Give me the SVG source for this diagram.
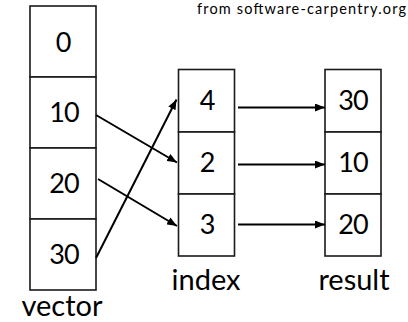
<svg xmlns="http://www.w3.org/2000/svg" width="408" height="322" viewBox="0 0 408 322">
  <style>
    .cell { fill: #fff; stroke: #1a1a1a; stroke-width: 1.6; }
    .num { font-family: Lato, "Open Sans", sans-serif; font-size: 27px; fill: #000; text-anchor: middle; letter-spacing: -1px; }
    .label { font-family: Lato, "Open Sans", sans-serif; font-size: 29px; fill: #000; text-anchor: middle; }
    .credit { font-family: Lato, "Open Sans", sans-serif; font-size: 14.5px; fill: #000; text-anchor: end; }
    .arrow { stroke: #000; stroke-width: 2; fill: none; marker-end: url(#head); }
  </style>
  <defs>
    <marker id="head" markerUnits="userSpaceOnUse" markerWidth="10" markerHeight="8" refX="10" refY="4" orient="auto">
      <path d="M0,0 L10,4 L0,8 Z" fill="#000"/>
    </marker>
  </defs>

  <text class="credit" x="406" y="14" textLength="209" lengthAdjust="spacing">from software-carpentry.org</text>

  <g id="vector">
    <rect class="cell" x="30" y="6" width="66" height="71"/>
    <rect class="cell" x="30" y="77" width="66" height="71"/>
    <rect class="cell" x="30" y="148" width="66" height="71"/>
    <rect class="cell" x="30" y="219" width="66" height="71"/>
    <text class="num" x="63" y="52">0</text>
    <text class="num" x="64" y="122">10</text>
    <text class="num" x="64" y="193">20</text>
    <text class="num" x="64" y="264">30</text>
    <text class="label" x="62" y="316">vector</text>
  </g>

  <g id="index">
    <rect class="cell" x="178.5" y="69.5" width="56" height="62.5"/>
    <rect class="cell" x="178.5" y="132" width="56" height="62"/>
    <rect class="cell" x="178.5" y="194" width="56" height="62"/>
    <text class="num" x="207" y="110">4</text>
    <text class="num" x="207" y="172">2</text>
    <text class="num" x="207" y="234">3</text>
    <text class="label" x="206" y="290">index</text>
  </g>

  <g id="result">
    <rect class="cell" x="325" y="69.5" width="56" height="62.5"/>
    <rect class="cell" x="325" y="132" width="56" height="62"/>
    <rect class="cell" x="325" y="194" width="56" height="62"/>
    <text class="num" x="353" y="110">30</text>
    <text class="num" x="353" y="172">10</text>
    <text class="num" x="353" y="234">20</text>
    <text class="label" x="354" y="290">result</text>
  </g>

  <g id="connectors">
    <line class="arrow" x1="96" y1="115" x2="177" y2="162.5"/>
    <line class="arrow" x1="98" y1="179" x2="177" y2="226"/>
    <line class="arrow" x1="96" y1="258" x2="176.5" y2="99.5"/>
    <line class="arrow" x1="238" y1="107.5" x2="325" y2="107.5"/>
    <line class="arrow" x1="238" y1="164.5" x2="325" y2="164.5"/>
    <line class="arrow" x1="238" y1="224.5" x2="325" y2="224.5"/>
  </g>
</svg>
